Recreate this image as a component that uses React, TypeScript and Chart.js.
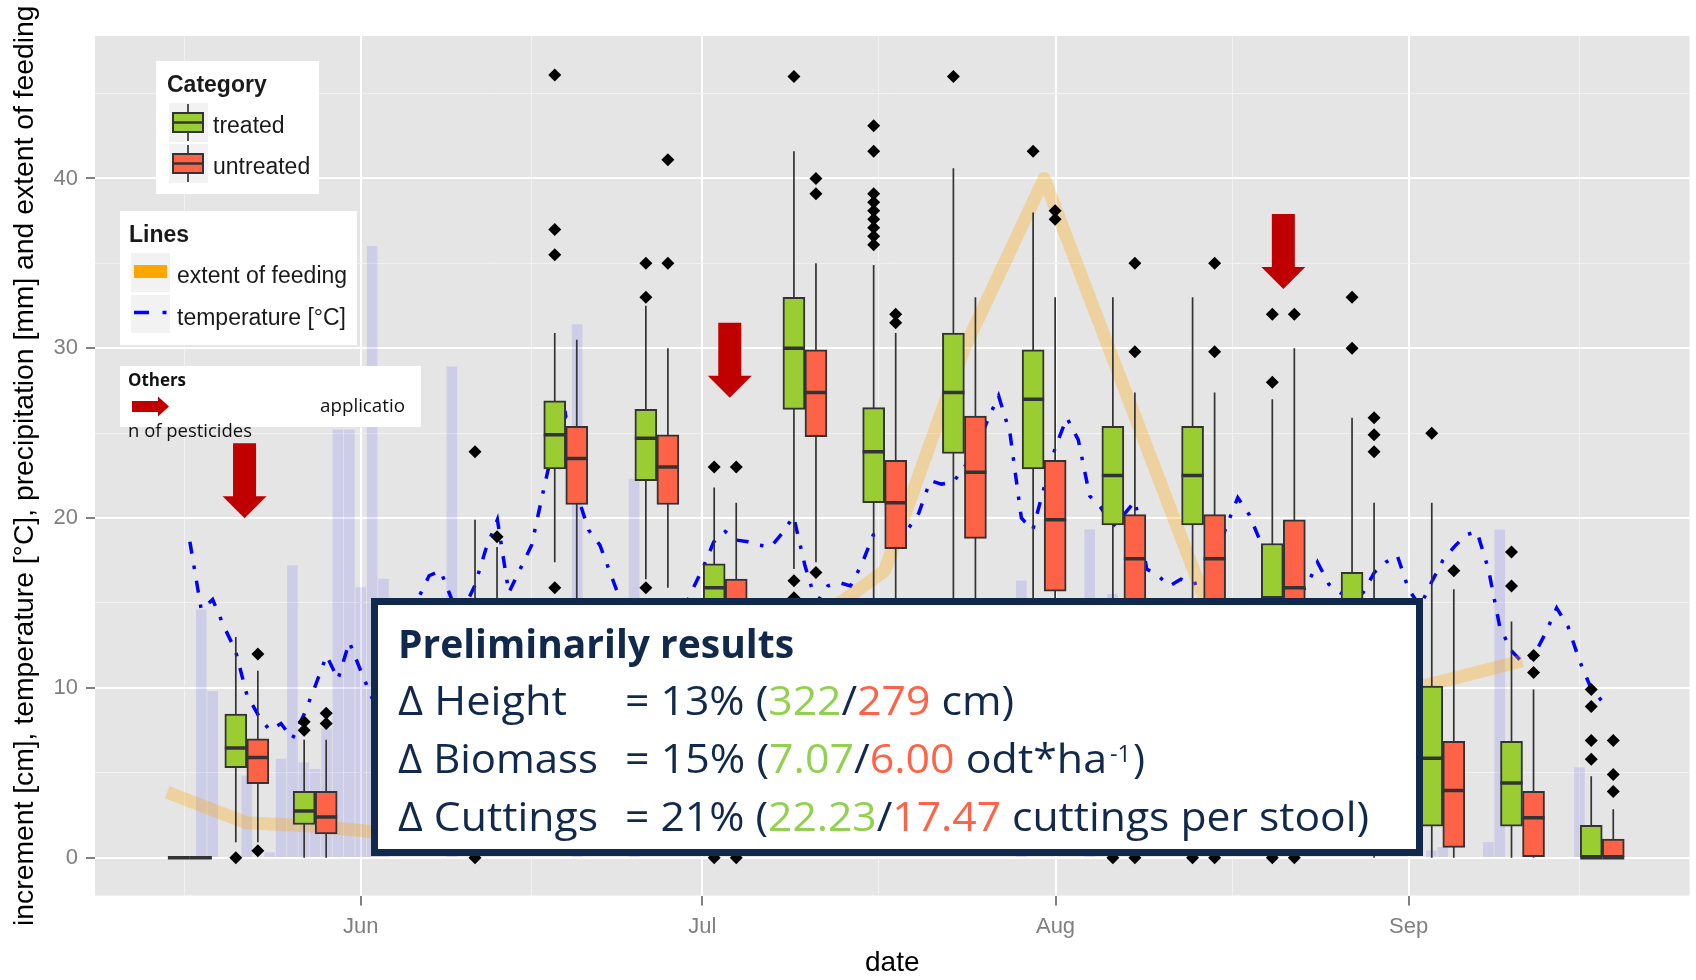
import React, { useEffect, useRef } from 'react';
import { Chart, registerables } from 'chart.js';
Chart.register(...registerables);

// ---------------- data (x = days since 1 June) ----------------
const xTickValues = [-15.5, 0, 15, 30, 45.5, 61, 76.5, 92, 107];
const xTickLabels = ['', 'Jun', '', 'Jul', '', 'Aug', '', 'Sep', ''];
const yTickValues = [0, 5, 10, 15, 20, 25, 30, 35, 40, 45];
const yTickLabels = ['0', '', '10', '', '20', '', '30', '', '40', ''];

const sampleDates = [-15, -10, -4, 11, 18, 26, 32, 39, 46, 53, 60, 67, 74, 81, 88, 95, 102, 109];
const treatedLow = [0, 0.9, 0, 1.0, 17.4, 16.4, 5.0, 17.0, 12.0, 12.0, 10.0, 3.0, 3.0, 2.0, 2.0, 0, 0, 0];
const treatedQ1 = [0, 5.3, 1.95, 6.0, 22.9, 22.2, 12.0, 26.4, 20.9, 23.8, 22.9, 19.6, 19.6, 10.0, 8.0, 1.85, 1.85, 0];
const treatedMed = [0, 6.45, 2.75, 9.0, 24.9, 24.7, 15.9, 30.0, 23.9, 27.4, 27.0, 22.5, 22.5, 15.3, 12.0, 5.85, 4.4, 0];
const treatedQ3 = [0, 8.45, 3.9, 12.5, 26.9, 26.4, 17.3, 33.0, 26.5, 30.9, 29.9, 25.4, 25.4, 18.5, 16.8, 10.1, 6.85, 1.9];
const treatedHigh = [0, 13.0, 6.95, 19.9, 30.9, 32.5, 21.8, 41.6, 34.9, 40.6, 38.0, 33.0, 33.0, 27.0, 25.9, 20.9, 13.9, 4.8];

const untreatedLow = [0, 0.9, 0, 0.5, 12.0, 15.9, 4.0, 17.4, 10.0, 8.0, 4.0, 2.0, 2.0, 2.0, 0, 0, 0, 0];
const untreatedQ1 = [0, 4.35, 1.4, 5.0, 20.8, 20.8, 10.0, 24.8, 18.2, 18.8, 15.7, 13.5, 13.5, 10.5, 4.0, 0.6, 0, 0];
const untreatedMed = [0, 5.9, 2.4, 8.0, 23.5, 23.0, 13.5, 27.4, 20.9, 22.7, 19.9, 17.6, 17.6, 15.9, 8.0, 3.95, 2.35, 0];
const untreatedQ3 = [0, 7.0, 3.9, 11.5, 25.4, 24.9, 16.4, 29.9, 23.4, 26.0, 23.4, 20.2, 20.2, 19.9, 12.5, 6.85, 3.9, 1.1];
const untreatedHigh = [0, 11.0, 6.95, 18.3, 30.5, 30.0, 20.9, 35.0, 30.9, 33.0, 33.0, 27.4, 27.4, 30.0, 20.9, 15.8, 9.9, 2.85];

const treatedOutlierDates = [-10, -4, -4, 11, 11, 18, 18, 18, 18, 26, 26, 26, 32, 32, 39, 39, 39,
  46, 46, 46, 46, 46, 46, 46, 46, 46, 53, 60, 67, 74, 81, 81, 81, 88, 88, 95, 102, 102, 109, 109, 109, 109];
const treatedOutlierValues = [0, 8.0, 7.5, 23.9, 0, 46.1, 37.0, 35.5, 15.9, 35.0, 33.0, 15.9, 23.0, 0, 46.0, 16.3, 15.3,
  43.1, 41.6, 39.1, 38.6, 38.1, 37.6, 37.1, 36.6, 36.1, 46.0, 41.6, 0, 0, 32.0, 28.0, 0, 33.0, 30.0, 25.0, 18.0, 16.0, 9.9, 8.9, 6.9, 5.8];
const untreatedOutlierDates = [-10, -10, -4, -4, 11, 26, 26, 32, 32, 39, 39, 39, 46, 46, 60, 60, 67, 67, 67,
  74, 74, 74, 81, 81, 88, 88, 88, 95, 102, 102, 109, 109, 109];
const untreatedOutlierValues = [12.0, 0.4, 8.5, 7.9, 18.9, 41.1, 35.0, 23.0, 0, 40.0, 39.1, 16.8, 32.0, 31.5, 38.1, 37.6, 35.0, 29.8, 0,
  35.0, 29.8, 0, 32.0, 0, 25.9, 24.9, 23.9, 16.9, 11.9, 10.9, 6.9, 4.9, 3.9];

const precipDays = [-14, -13, -10, -8, -7, -6, -5, -4, -3, -2, -1, 0, 1, 2, 8, 19, 24, 58, 64, 66, 94, 95, 99, 100, 107];
const precipValues = [14.6, 9.8, 4.8, 0.3, 5.8, 17.2, 5.6, 5.2, 7.6, 25.2, 25.2, 15.9, 36.0, 16.4, 28.9, 31.4, 22.3, 16.3, 19.3, 15.5, 0.4, 0.6, 0.9, 19.3, 5.3];

const tempDays = [-15, -14, -13, -12, -11, -10, -9, -8, -7, -6, -5, -4, -3, -2, -1, 0, 1, 2, 3, 4, 5, 6, 7, 8, 9,
  10, 11, 12, 13, 14, 15, 16, 17, 18, 19, 20, 21, 22, 23, 24, 25, 26, 27, 28, 29, 30, 31, 32, 33, 34, 35, 36, 37, 38, 39,
  40, 41, 42, 43, 44, 45, 46, 47, 48, 49, 50, 51, 52, 53, 54, 55, 56, 57, 58, 59, 60, 61, 62, 63, 64, 65, 66, 67, 68, 69,
  70, 71, 72, 73, 74, 75, 76, 77, 78, 79, 80, 81, 82, 83, 84, 85, 86, 87, 88, 89, 90, 91, 92, 93, 94, 95, 96, 97, 98, 99,
  100, 101, 102, 103, 104, 105, 106, 107, 108, 109];
const tempValues = [18.6, 14.6, 15.2, 13.6, 12.2, 9.6, 8.4, 7.5, 7.9, 7.0, 8.4, 10.1, 11.9, 10.5, 12.7, 11.0, 9.4, 8.6, 10.8, 13.2, 15.2, 16.6, 16.9, 15.2, 14.6,
  16.0, 18.2, 19.9, 15.6, 17.0, 18.4, 21.5, 24.5, 26.0, 21.4, 19.3, 18.4, 16.6, 14.8, 13.6, 12.7, 12.3, 12.9, 14.0, 15.6, 17.0, 18.6, 19.2, 18.7, 18.6, 18.4, 18.3, 19.1, 20.1, 17.2,
  15.0, 16.0, 16.2, 16.0, 17.3, 19.0, 19.2, 19.3, 19.3, 20.3, 22.2, 22.0, 22.1, 23.0, 24.0, 25.7, 27.2, 25.0, 20.0, 19.3, 21.8, 24.2, 25.9, 24.6, 21.3, 20.6, 19.5, 20.2, 21.0, 17.0,
  16.6, 16.0, 16.4, 16.1, 16.3, 17.6, 19.5, 21.2, 20.2, 18.6, 17.0, 16.2, 15.6, 15.9, 17.4, 16.1, 15.6, 15.3, 15.6, 16.8, 17.4, 17.8, 15.8, 14.8, 16.2, 17.5, 18.3, 19.0, 19.2, 17.0,
  13.6, 12.2, 11.5, 11.9, 13.2, 14.7, 13.6, 11.6, 10.0, 9.2];

const feedDays = [-17, -10, -4, 4, 11, 18, 26, 32, 39, 46, 53, 60, 67, 74, 81, 88, 95, 102];
const feedValues = [3.85, 2.05, 1.85, 1.35, 1.5, 2.5, 5.0, 9.0, 13.5, 16.9, 30.0, 40.0, 27.7, 15.4, 8.0, 9.3, 10.4, 11.6];

const arrowDates = [-10.2, 32.4, 81];
const arrowTopValues = [24.4, 31.5, 37.9];

const DODGE = 0.967; // half of the dodge width, in days

const Y_TITLE = 'increment [cm], temperature [°C], precipitation [mm] and extent of feeding';
const GREEN = '#9acd32';
const RED = '#ff6347';
const NAVY = '#11294d';
const TXT_GREEN = '#92d050';
const TXT_RED = '#ff6347';

// ---------------- helpers ----------------
const toXY = (xs: number[], ys: number[], shift = 0) => xs.map((x, i) => ({ x: x + shift, y: ys[i] }));
const whiskerData = (lo: number[], hi: number[], shift: number) =>
  sampleDates.flatMap((d, i) => [{ x: d + shift, y: lo[i] }, { x: d + shift, y: hi[i] }, { x: d + shift, y: null }]);
const medianData = (med: number[], a: number, b: number) =>
  sampleDates.flatMap((d, i) => [{ x: d + a, y: med[i] }, { x: d + b, y: med[i] }, { x: d + b, y: null }]);
const boxData = (q1: number[], q3: number[], shift: number) =>
  sampleDates.map((d, i) => ({ x: d + shift, y: [q1[i], q3[i]] }));

const isMajorX = (v: number) => { const i = xTickValues.indexOf(v); return i >= 0 && xTickLabels[i] !== ''; };
const isMajorY = (v: number) => { const i = yTickValues.indexOf(v); return i >= 0 && yTickLabels[i] !== ''; };

function drawPieces(ctx: CanvasRenderingContext2D, pieces: [string, string][], x: number, y: number, w: number) {
  const widths = pieces.map(p => ctx.measureText(p[0]).width);
  const total = widths.reduce((a, b) => a + b, 0);
  const s = w / total;
  let cx = x;
  pieces.forEach((p, i) => {
    ctx.fillStyle = p[1];
    ctx.save(); ctx.translate(cx, y); ctx.scale(s, 1); ctx.fillText(p[0], 0, 0); ctx.restore();
    cx += widths[i] * s;
  });
  return cx;
}
function drawFit(ctx: CanvasRenderingContext2D, text: string, x: number, y: number, w: number) {
  const m = ctx.measureText(text).width;
  ctx.save(); ctx.translate(x, y); ctx.scale(w / m, 1); ctx.fillText(text, 0, 0); ctx.restore();
}
function downArrow(ctx: CanvasRenderingContext2D, cx: number, top: number) {
  ctx.beginPath();
  ctx.moveTo(cx - 11.5, top); ctx.lineTo(cx + 11.5, top); ctx.lineTo(cx + 11.5, top + 53);
  ctx.lineTo(cx + 22, top + 53); ctx.lineTo(cx, top + 75); ctx.lineTo(cx - 22, top + 53);
  ctx.lineTo(cx - 11.5, top + 53); ctx.closePath(); ctx.fill();
}

const bgPlugin = {
  id: 'panelBg',
  beforeDraw(chart: any) {
    const { ctx, chartArea: a, width, height } = chart;
    ctx.save();
    ctx.fillStyle = '#ffffff'; ctx.fillRect(0, 0, width, height);
    ctx.fillStyle = '#e5e5e5'; ctx.fillRect(a.left, a.top, a.right - a.left, a.bottom - a.top);
    ctx.restore();
  },
};

const overlayPlugin = {
  id: 'overlay',
  afterDraw(chart: any) {
    const ctx: CanvasRenderingContext2D = chart.ctx;
    const a = chart.chartArea;
    const xs = chart.scales.x, ys = chart.scales.y;
    ctx.save();
    // axis titles
    ctx.fillStyle = '#000';
    ctx.font = '28px "Liberation Sans", Arial, sans-serif';
    ctx.textAlign = 'center'; ctx.textBaseline = 'middle';
    ctx.fillText('date', (a.left + a.right) / 2, 963);
    ctx.save(); ctx.translate(25, (a.top + a.bottom) / 2); ctx.rotate(-Math.PI / 2);
    ctx.font = '28.3px "Liberation Sans", Arial, sans-serif';
    ctx.fillText(Y_TITLE, 0, 0); ctx.restore();

    // red arrows
    ctx.fillStyle = '#c00000';
    arrowDates.forEach((d, i) => downArrow(ctx, xs.getPixelForValue(d), ys.getPixelForValue(arrowTopValues[i])));

    ctx.textAlign = 'left'; ctx.textBaseline = 'alphabetic';
    // Category legend
    ctx.fillStyle = '#fff'; ctx.fillRect(156, 61, 163, 133);
    ctx.fillStyle = '#1a1a1a'; ctx.font = 'bold 23px "Liberation Sans", Arial, sans-serif';
    ctx.fillText('Category', 167, 92);
    const keys: [number, string, string][] = [[103, GREEN, 'treated'], [144, RED, 'untreated']];
    keys.forEach(([ky, col, lab]) => {
      ctx.fillStyle = '#f2f2f2'; ctx.fillRect(169, ky, 39, 39);
      ctx.strokeStyle = '#333'; ctx.lineWidth = 1.7;
      ctx.beginPath(); ctx.moveTo(188, ky + 1); ctx.lineTo(188, ky + 38); ctx.stroke();
      ctx.fillStyle = col; ctx.fillRect(172, ky + 9, 32, 21);
      ctx.lineWidth = 2; ctx.strokeRect(173, ky + 10, 30, 19);
      ctx.lineWidth = 2.5; ctx.beginPath(); ctx.moveTo(172, ky + 19.5); ctx.lineTo(204, ky + 19.5); ctx.stroke();
      ctx.fillStyle = '#1a1a1a'; ctx.font = '23px "Liberation Sans", Arial, sans-serif';
      ctx.fillText(lab, 213, ky + 30);
    });

    // Lines legend
    ctx.fillStyle = '#fff'; ctx.fillRect(120, 211, 237, 134);
    ctx.fillStyle = '#1a1a1a'; ctx.font = 'bold 23px "Liberation Sans", Arial, sans-serif';
    ctx.fillText('Lines', 129, 241.5);
    ctx.fillStyle = '#f2f2f2'; ctx.fillRect(131, 253, 39, 39); ctx.fillRect(131, 295, 39, 38);
    ctx.fillStyle = '#ffa500'; ctx.fillRect(134, 265, 33, 13);
    ctx.strokeStyle = '#0000ff'; ctx.lineWidth = 3.5;
    ctx.beginPath(); ctx.moveTo(134, 312.5); ctx.lineTo(149, 312.5); ctx.moveTo(162.5, 312.5); ctx.lineTo(166.5, 312.5); ctx.stroke();
    ctx.fillStyle = '#1a1a1a'; ctx.font = '23px "Liberation Sans", Arial, sans-serif';
    ctx.fillText('extent of feeding', 177, 283);
    ctx.fillText('temperature [°C]', 177, 325);

    // Others legend
    ctx.fillStyle = '#fff'; ctx.fillRect(120, 366, 301, 61);
    ctx.fillStyle = '#111'; ctx.font = 'bold 18px "Open Sans", sans-serif';
    drawFit(ctx, 'Others', 128, 386, 58);
    ctx.fillStyle = '#c00000';
    ctx.fillRect(132, 401, 27, 11);
    ctx.beginPath(); ctx.moveTo(158, 396.5); ctx.lineTo(169, 406.5); ctx.lineTo(158, 416.5); ctx.closePath(); ctx.fill();
    ctx.fillStyle = '#111'; ctx.font = '18px "Open Sans", sans-serif';
    drawFit(ctx, 'applicatio', 320, 411.5, 85);
    drawFit(ctx, 'n of pesticides', 128, 436.5, 124);

    // results text box
    ctx.fillStyle = '#fff'; ctx.fillRect(371, 598, 1052, 258);
    ctx.strokeStyle = NAVY; ctx.lineWidth = 7; ctx.strokeRect(374.5, 601.5, 1045, 251);
    ctx.fillStyle = NAVY; ctx.font = 'bold 40px "Open Sans", sans-serif';
    drawFit(ctx, 'Preliminarily results', 398, 658, 396);
    ctx.font = '40px "Open Sans", sans-serif';
    drawFit(ctx, 'Δ Height', 398, 715, 169);
    drawFit(ctx, 'Δ Biomass', 398, 773, 200);
    drawFit(ctx, 'Δ Cuttings', 398, 831, 200);
    drawPieces(ctx, [['= 13% (', NAVY], ['322', TXT_GREEN], ['/', NAVY], ['279', TXT_RED], [' cm)', NAVY]], 625, 715, 389);
    drawPieces(ctx, [['= 15% (', NAVY], ['7.07', TXT_GREEN], ['/', NAVY], ['6.00', TXT_RED], [' odt*ha', NAVY]], 625, 773, 482);
    ctx.fillStyle = NAVY; ctx.font = '23px "Open Sans", sans-serif';
    drawFit(ctx, '-1', 1110, 762, 21);
    ctx.font = '40px "Open Sans", sans-serif';
    drawFit(ctx, ')', 1133, 773, 12);
    drawPieces(ctx, [['= 21% (', NAVY], ['22.23', TXT_GREEN], ['/', NAVY], ['17.47', TXT_RED], [' cuttings per stool)', NAVY]], 625, 831, 744);
    ctx.restore();
  },
};

export default function App() {
  const ref = useRef<HTMLCanvasElement | null>(null);
  useEffect(() => {
    if (!ref.current) return;
    const tickFont = { family: '"Liberation Sans", Arial, sans-serif', size: 22 };
    const chart = new Chart(ref.current, {
      type: 'bar',
      data: {
        datasets: [
          {
            type: 'bar', label: 'precipitation', data: toXY(precipDays, precipValues) as any,
            backgroundColor: 'rgba(0,0,255,0.1)', barThickness: 10, stack: 'all', order: 10,
          },
          {
            type: 'line', label: 'temperature', data: toXY(tempDays, tempValues) as any,
            borderColor: '#0000ff', borderWidth: 3.5, borderDash: [12, 12, 3.5, 12], borderCapStyle: 'butt',
            pointRadius: 0, tension: 0, order: 9,
          },
          {
            type: 'line', label: 'extent of feeding', data: toXY(feedDays, feedValues) as any,
            borderColor: 'rgba(255,165,0,0.3)', borderWidth: 13, borderJoinStyle: 'round', borderCapStyle: 'butt',
            pointRadius: 0, tension: 0, order: 8,
          },
          {
            type: 'line', label: 'w-t', data: whiskerData(treatedLow, treatedHigh, -DODGE) as any,
            borderColor: '#333333', borderWidth: 1.7, pointRadius: 0, spanGaps: false, order: 7,
          },
          {
            type: 'line', label: 'w-u', data: whiskerData(untreatedLow, untreatedHigh, DODGE) as any,
            borderColor: '#333333', borderWidth: 1.7, pointRadius: 0, spanGaps: false, order: 7,
          },
          {
            type: 'bar', label: 'treated', data: boxData(treatedQ1, treatedQ3, -DODGE) as any,
            backgroundColor: GREEN, borderColor: '#333333', borderWidth: 2, borderSkipped: false,
            barThickness: 22, stack: 'all', order: 6,
          },
          {
            type: 'bar', label: 'untreated', data: boxData(untreatedQ1, untreatedQ3, DODGE) as any,
            backgroundColor: RED, borderColor: '#333333', borderWidth: 2, borderSkipped: false,
            barThickness: 22, stack: 'all', order: 6,
          },
          {
            type: 'line', label: 'm-t', data: medianData(treatedMed, -2 * DODGE, 0) as any,
            borderColor: '#333333', borderWidth: 3.5, pointRadius: 0, spanGaps: false, order: 5,
          },
          {
            type: 'line', label: 'm-u', data: medianData(untreatedMed, 0, 2 * DODGE) as any,
            borderColor: '#333333', borderWidth: 3.5, pointRadius: 0, spanGaps: false, order: 5,
          },
          {
            type: 'scatter', label: 'o-t', data: toXY(treatedOutlierDates, treatedOutlierValues, -DODGE) as any,
            pointStyle: 'rectRot', pointRadius: 6.5, pointBackgroundColor: '#000', pointBorderWidth: 0, order: 4,
          },
          {
            type: 'scatter', label: 'o-u', data: toXY(untreatedOutlierDates, untreatedOutlierValues, DODGE) as any,
            pointStyle: 'rectRot', pointRadius: 6.5, pointBackgroundColor: '#000', pointBorderWidth: 0, order: 4,
          },
        ] as any,
      },
      options: {
        animation: false,
        responsive: false,
        events: [],
        layout: { padding: { left: 0, top: 36, right: 3, bottom: 0 } },
        plugins: { legend: { display: false }, tooltip: { enabled: false }, title: { display: false } },
        scales: {
          x: {
            type: 'linear', min: -23.33, max: 116.66, offset: false,
            afterBuildTicks: (s: any) => { s.ticks = xTickValues.map(v => ({ value: v })); },
            afterFit: (s: any) => { s.height = 84.5; },
            ticks: {
              autoSkip: false, maxRotation: 0, minRotation: 0, padding: 8, font: tickFont, color: '#7f7f7f',
              callback: (v: any) => { const i = xTickValues.indexOf(Number(v)); return i >= 0 ? xTickLabels[i] : ''; },
            },
            grid: {
              offset: false,
              color: (c: any) => (isMajorX(c.tick?.value) ? '#ffffff' : '#f2f2f2'),
              lineWidth: (c: any) => (isMajorX(c.tick?.value) ? 2 : 1),
              tickColor: (c: any) => (isMajorX(c.tick?.value) ? '#7f7f7f' : 'rgba(0,0,0,0)'),
              tickWidth: 2, tickLength: 10, drawTicks: true,
            },
            border: { display: false },
          },
          y: {
            type: 'linear', min: -2.23, max: 48.39, stacked: false,
            afterBuildTicks: (s: any) => { s.ticks = yTickValues.map(v => ({ value: v })); },
            afterFit: (s: any) => { s.width = 95; },
            ticks: {
              autoSkip: false, padding: 8, font: tickFont, color: '#7f7f7f',
              callback: (v: any) => { const i = yTickValues.indexOf(Number(v)); return i >= 0 ? yTickLabels[i] : ''; },
            },
            grid: {
              color: (c: any) => (isMajorY(c.tick?.value) ? '#ffffff' : '#f2f2f2'),
              lineWidth: (c: any) => (isMajorY(c.tick?.value) ? 2 : 1),
              tickColor: (c: any) => (isMajorY(c.tick?.value) ? '#7f7f7f' : 'rgba(0,0,0,0)'),
              tickWidth: 2, tickLength: 9, drawTicks: true,
            },
            border: { display: false },
          },
        },
      } as any,
      plugins: [bgPlugin, overlayPlugin],
    });
    return () => chart.destroy();
  }, []);
  return (
    <div style={{ position: 'absolute', left: 0, top: 0, width: 1696, height: 980, background: '#fff' }}>
      <canvas ref={ref} width={1696} height={980} style={{ display: 'block', width: 1696, height: 980 }} />
    </div>
  );
}
